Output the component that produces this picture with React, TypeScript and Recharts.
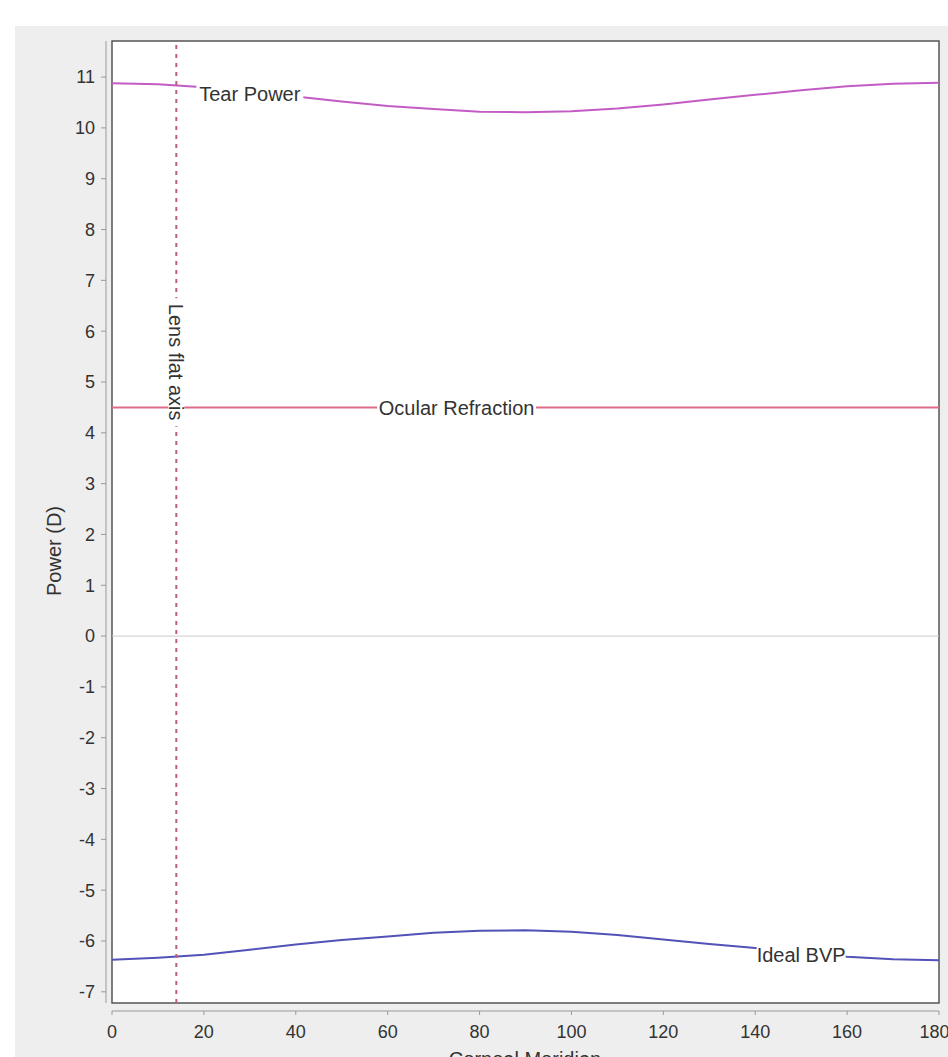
import { LineChart, Line, XAxis, YAxis, ReferenceLine, ReferenceArea, ReferenceDot } from 'recharts'

const meridians = [0, 10, 20, 30, 40, 50, 60, 70, 80, 90, 100, 110, 120, 130, 140, 150, 160, 170, 180]
const tearPower = [10.88, 10.86, 10.8, 10.72, 10.62, 10.52, 10.43, 10.37, 10.32, 10.31, 10.33, 10.38, 10.46, 10.56, 10.65, 10.74, 10.82, 10.87, 10.89]
const ocularRefraction = [4.5, 4.5, 4.5, 4.5, 4.5, 4.5, 4.5, 4.5, 4.5, 4.5, 4.5, 4.5, 4.5, 4.5, 4.5, 4.5, 4.5, 4.5, 4.5]
const idealBvp = [-6.37, -6.33, -6.27, -6.17, -6.07, -5.98, -5.91, -5.84, -5.8, -5.79, -5.82, -5.88, -5.97, -6.06, -6.14, -6.23, -6.31, -6.36, -6.38]

const xTicks = [0, 20, 40, 60, 80, 100, 120, 140, 160, 180]
const yTicks = [-7, -6, -5, -4, -3, -2, -1, 0, 1, 2, 3, 4, 5, 6, 7, 8, 9, 10, 11]
const lensFlatAxis = 14

const data = meridians.map((m, i) => ({
  meridian: m,
  tear: tearPower[i],
  ocular: ocularRefraction[i],
  bvp: idealBvp[i],
}))

const FONT = '"Liberation Sans", Arial, sans-serif'
const TEXT = '#333'

// text label sitting on top of a line, with a white box that hides the line behind it
function lineLabel(text: string, width: number) {
  return (props: any) => {
    const { cx, cy } = props
    return (
      <g>
        <rect x={cx - width / 2 - 2} y={cy - 9} width={width + 4} height={18} fill="#fff" />
        <text x={cx} y={cy} textAnchor="middle" dominantBaseline="central" fontSize={20} fontFamily={FONT} fill={TEXT}>
          {text}
        </text>
      </g>
    )
  }
}

function axisLabel(props: any) {
  const { cx, cy } = props
  return (
    <g>
      <rect x={cx - 8} y={cy - 64} width={16} height={128} fill="#fff" />
      <text
        x={cx}
        y={cy}
        transform={`rotate(90 ${cx} ${cy})`}
        textAnchor="middle"
        dominantBaseline="central"
        fontSize={20}
        fontFamily={FONT}
        fill={TEXT}
      >
        Lens flat axis
      </text>
    </g>
  )
}

export default function App() {
  return (
    <div style={{ position: 'absolute', left: 0, top: 0, width: 948, height: 1057, background: '#fff', overflow: 'hidden' }}>
      <div style={{ position: 'absolute', left: 15, top: 26, right: 0, bottom: 0, background: '#eeeeee' }} />
      <div style={{ position: 'absolute', left: 0, top: 0 }}>
        <LineChart width={948} height={1057} data={data} margin={{ top: 41, right: 9, bottom: 0, left: 0 }}>
          <ReferenceArea x1={0} x2={180} y1={-7.22} y2={11.71} fill="#fff" fillOpacity={1} stroke="#555" strokeWidth={1.5} />
          <XAxis
            dataKey="meridian"
            type="number"
            domain={[0, 180]}
            ticks={xTicks}
            height={54}
            tickSize={4}
            tickMargin={18}
            axisLine={{ stroke: '#999', transform: 'translate(0,8)' }}
            tickLine={{ stroke: '#999', transform: 'translate(0,8)' }}
            tick={{ fontSize: 18, fontFamily: FONT, fill: TEXT }}
            label={{
              content: () => (
                <text x={525} y={1066} textAnchor="middle" fontSize={20} fontFamily={FONT} fill={TEXT}>
                  Corneal Meridian
                </text>
              ),
            }}
          />
          <YAxis
            type="number"
            domain={[-7.22, 11.71]}
            ticks={yTicks}
            width={112}
            tickSize={5}
            tickMargin={12}
            axisLine={{ stroke: '#999', transform: 'translate(-6,0)' }}
            tickLine={{ stroke: '#999', transform: 'translate(-6,0)' }}
            tick={{ fontSize: 18, fontFamily: FONT, fill: TEXT }}
            label={{
              content: () => (
                <text x={54} y={551} transform="rotate(-90 54 551)" textAnchor="middle" dominantBaseline="central" fontSize={20} fontFamily={FONT} fill={TEXT}>
                  Power (D)
                </text>
              ),
            }}
          />
          <ReferenceLine y={0} stroke="#cccccc" strokeWidth={1} />
          <Line dataKey="tear" stroke="#c25cc4" strokeWidth={2} dot={false} isAnimationActive={false} />
          <Line dataKey="ocular" stroke="#e06a8a" strokeWidth={2} dot={false} isAnimationActive={false} />
          <Line dataKey="bvp" stroke="#5252b8" strokeWidth={2} dot={false} isAnimationActive={false} />
          <ReferenceLine x={lensFlatAxis} stroke="#bb6078" strokeWidth={2} strokeDasharray="4 5" />
          <ReferenceDot x={30} y={10.66} shape={lineLabel('Tear Power', 103)} />
          <ReferenceDot x={75} y={4.48} shape={lineLabel('Ocular Refraction', 155)} />
          <ReferenceDot x={150} y={-6.27} shape={lineLabel('Ideal BVP', 85)} />
          <ReferenceDot x={lensFlatAxis} y={5.39} shape={axisLabel} />
        </LineChart>
      </div>
    </div>
  )
}
